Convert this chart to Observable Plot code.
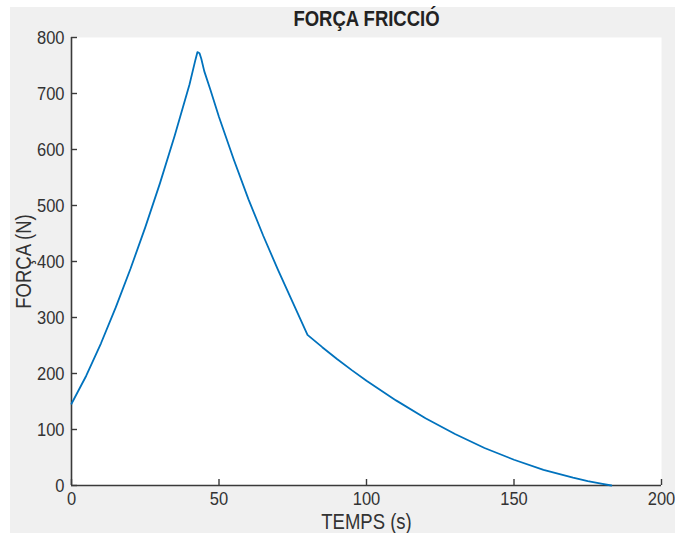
<!DOCTYPE html>
<html><head><meta charset="utf-8">
<script src="https://cdn.jsdelivr.net/npm/d3@7"></script>
<script src="https://cdn.jsdelivr.net/npm/@observablehq/plot@0.6"></script>
<style>
html,body{margin:0;padding:0;background:#fff;}
#panel{position:absolute;left:10px;top:7px;width:665px;height:526px;background:#f0f0f0;}
#chart{position:absolute;left:0;top:0;}
</style></head><body>
<div id="panel"></div><div id="chart"></div>
<script>
// ---- data ----
const timeS  = [0, 5, 10, 15, 20, 25, 30, 35, 40, 42, 42.7, 43.4, 44, 45, 47, 50, 55, 60, 65, 70, 75, 80, 85, 90, 95, 100, 110, 120, 130, 140, 150, 160, 170, 175, 180, 183];
const forceN = [146, 196, 254, 318, 387, 461, 540, 625, 716, 760, 774, 772, 762, 740, 708, 658, 582, 511, 446, 385, 327, 269, 247, 226, 206, 187, 152, 120, 92, 67, 46, 28, 14, 8, 3, 0];
const xTicks = [0, 50, 100, 150, 200];
const yTicks = [0, 100, 200, 300, 400, 500, 600, 700, 800];
const titleText = "FORÇA FRICCIÓ";
const xLabel = "TEMPS (s)";
const yLabel = "FORÇA (N)";

const fam = "'Liberation Sans', Arial, sans-serif";
const squeeze = 0.87;            // reference glyphs are narrow and tall
const tickFS = 16.5 / squeeze, labelFS = 18.5 / squeeze, titleFS = 18.5 / squeeze;

const data = timeS.map((t, i) => ({t, f: forceN[i]}));
const axisColor = "#3a3a3a";
const textColor = "#333";

const W = 675, H = 533, mL = 71, mR = 14, mT = 37, mB = 48;
const fw = W - mL - mR, fh = H - mT - mB;

const plot = Plot.plot({
  width: W, height: H,
  marginLeft: mL, marginRight: mR, marginTop: mT, marginBottom: mB,
  style: {background: "transparent", fontFamily: fam, color: textColor, overflow: "visible"},
  x: {domain: [0, 200]},
  y: {domain: [0, 800]},
  marks: [
    Plot.frame({fill: "white", stroke: null}),
    Plot.ruleY([0], {stroke: axisColor, strokeWidth: 1.6}),
    Plot.ruleX([0], {stroke: axisColor, strokeWidth: 1.6}),
    Plot.tickX(xTicks, {x: d => d, insetTop: fh - 6, stroke: axisColor, strokeWidth: 1.4}),
    Plot.tickY(yTicks, {y: d => d, insetRight: fw - 6, stroke: axisColor, strokeWidth: 1.4}),
    Plot.line(data, {x: "t", y: "f", stroke: "#0072BD", strokeWidth: 1.8}),
    Plot.axisX({ticks: xTicks, tickSize: 0, tickPadding: 6, fontSize: tickFS, label: null}),
    Plot.axisY({ticks: yTicks, tickSize: 0, tickPadding: 7, fontSize: tickFS, label: null}),
    Plot.text([xLabel], {frameAnchor: "bottom", dy: 37, lineAnchor: "middle", textAnchor: "middle", fontSize: labelFS, fill: textColor}),
    Plot.text([yLabel], {frameAnchor: "left", dx: -47, rotate: -90, lineAnchor: "middle", textAnchor: "middle", fontSize: labelFS, fill: textColor}),
    Plot.text([titleText], {frameAnchor: "top", dy: -18, lineAnchor: "middle", textAnchor: "middle", fontSize: titleFS, fontWeight: "bold", fill: "#222"})
  ]
});
// narrow the glyphs horizontally around each text's anchor
plot.querySelectorAll("text").forEach(t => {
  const tr = t.getAttribute("transform");
  if (tr) t.setAttribute("transform", tr + ` scale(${squeeze},1)`);
  else {
    const x = +t.getAttribute("x") || 0, y = +t.getAttribute("y") || 0;
    t.setAttribute("transform", `translate(${x},${y}) scale(${squeeze},1) translate(${-x},${-y})`);
  }
});
document.getElementById("chart").appendChild(plot);
</script>
</body></html>
